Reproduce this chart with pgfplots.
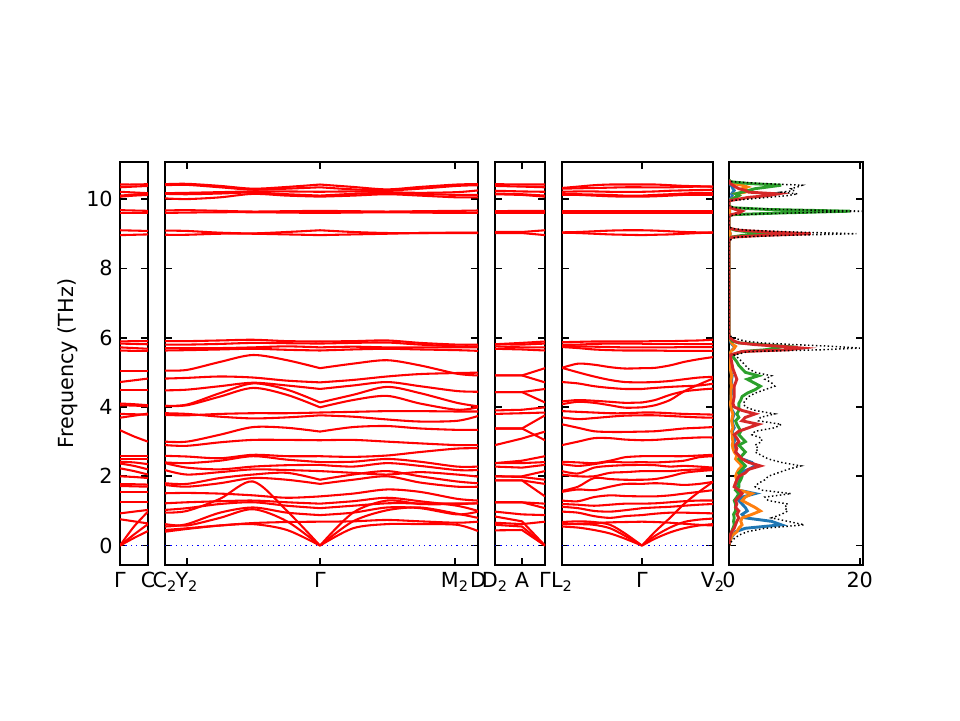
\documentclass[border=0pt]{standalone}
\usepackage{fontspec}
\setmainfont{DejaVu Sans}
\usepackage{pgfplots}
\usepackage{pgfplotstable}
\pgfplotsset{compat=1.18}

% ---------- Panel 1 : Gamma -> C ----------
\pgfplotstableread{
b 120 134 148
b1 0 0.22 0.42
b2 0 0.32 0.62
b3 0 0.55 0.98
b4 0.76 0.70 0.64
b5 0.93 0.98 1.03
b6 1.25 1.25 1.25
b7 1.55 1.55 1.55
b8 1.72 1.71 1.70
b9 1.77 1.77 1.76
b10 2.00 1.98 1.95
b11 2.23 2.15 2.05
b12 2.37 2.30 2.20
b13 2.42 2.40 2.35
b14 2.58 2.58 2.58
b15 2.50 2.50 2.50
b16 3.33 3.15 3.00
b17 3.69 3.75 3.81
b18 3.80 3.79 3.78
b19 4.05 4.04 4.02
b20 4.10 4.08 4.05
b21 4.48 4.48 4.48
b22 4.72 4.77 4.82
b23 5.04 5.04 5.04
b24 5.63 5.62 5.62
b25 5.72 5.70 5.68
b26 5.83 5.82 5.81
b27 5.89 5.90 5.90
b28 8.96 8.97 8.98
b29 9.10 9.09 9.08
b30 9.60 9.60 9.60
b31 9.68 9.67 9.66
b32 10.07 10.10 10.12
b33 10.10 10.13 10.16
b34 10.21 10.19 10.17
b35 10.34 10.36 10.38
b36 10.42 10.42 10.43
}\pOneRaw
\pgfplotstabletranspose[colnames from=b]\pOne{\pOneRaw}

% ---------- Panel 2 left : C2 -> Y2 -> Gamma ----------
\pgfplotstableread{
b 165 187 220 253 287 320
b1 0.45 0.50 0.58 0.62 0.45 0
b2 0.62 0.58 0.80 1.05 0.70 0
b3 0.95 1.00 1.35 1.85 1.00 0
b4 0.40 0.48 0.58 0.65 0.68 0.69
b5 0.55 0.62 0.95 1.10 0.95 0.88
b6 1.03 1.08 1.20 1.25 1.15 1.08
b7 1.22 1.25 1.28 1.30 1.25 1.21
b8 1.51 1.52 1.50 1.45 1.38 1.42
b9 1.75 1.70 1.80 1.95 1.90 1.78
b10 1.80 1.78 1.95 2.05 2.10 1.90
b11 2.18 2.05 2.12 2.20 2.18 2.15
b12 2.38 2.25 2.20 2.28 2.32 2.33
b13 2.40 2.38 2.45 2.58 2.48 2.41
b14 2.59 2.57 2.52 2.62 2.58 2.58
b15 2.90 2.88 2.98 3.05 3.05 3.04
b16 3.00 3.00 3.20 3.42 3.40 3.29
b17 3.82 3.80 3.72 3.67 3.70 3.76
b18 3.77 3.76 3.80 3.82 3.82 3.84
b19 4.03 4.05 4.30 4.55 4.35 3.99
b20 4.03 4.07 4.40 4.68 4.50 4.13
b21 4.48 4.50 4.60 4.70 4.62 4.52
b22 4.82 4.84 4.88 4.85 4.76 4.71
b23 5.05 5.07 5.30 5.50 5.35 5.12
b24 5.63 5.64 5.66 5.68 5.65 5.63
b25 5.70 5.70 5.70 5.72 5.75 5.72
b26 5.80 5.80 5.82 5.85 5.84 5.83
b27 5.90 5.90 5.92 5.94 5.90 5.89
b28 8.97 8.97 9.00 9.00 8.98 8.96
b29 9.09 9.08 9.03 9.01 9.05 9.10
b30 9.60 9.61 9.62 9.62 9.61 9.60
b31 9.67 9.68 9.66 9.64 9.65 9.66
b32 10.02 10.00 10.05 10.15 10.10 10.07
b33 10.15 10.14 10.16 10.19 10.14 10.10
b34 10.17 10.18 10.20 10.22 10.22 10.21
b35 10.40 10.41 10.34 10.27 10.30 10.34
b36 10.43 10.44 10.38 10.30 10.35 10.42
}\pTwoLRaw
\pgfplotstabletranspose[colnames from=b]\pTwoL{\pTwoLRaw}

% ---------- Panel 2 right : Gamma -> M2 -> D ----------
\pgfplotstableread{
b 320 353 387 420 457 478
b1 0 0.50 0.62 0.62 0.60 0.42
b2 0 0.70 1.02 1.10 0.92 0.80
b3 0 0.95 1.30 1.20 1.20 1.22
b4 0.69 0.70 0.74 0.70 0.66 0.69
b5 0.88 0.95 1.10 1.08 0.90 0.98
b6 1.08 1.15 1.22 1.22 1.22 1.22
b7 1.21 1.28 1.38 1.28 1.15 1.00
b8 1.42 1.50 1.62 1.55 1.35 1.30
b9 1.78 1.90 2.00 1.82 1.70 1.70
b10 1.90 2.05 2.15 2.00 1.85 1.80
b11 2.15 2.10 2.05 2.12 2.05 1.99
b12 2.33 2.28 2.38 2.30 2.18 2.18
b13 2.41 2.42 2.50 2.42 2.28 2.28
b14 2.58 2.56 2.60 2.70 2.80 2.81
b15 3.04 3.05 3.00 2.95 2.90 2.90
b16 3.29 3.42 3.45 3.38 3.34 3.34
b17 3.76 3.72 3.64 3.58 3.60 3.74
b18 3.84 3.86 3.88 3.88 3.87 3.87
b19 3.99 4.20 4.32 4.10 3.92 3.99
b20 4.13 4.35 4.58 4.40 4.12 4.02
b21 4.52 4.62 4.72 4.60 4.46 4.44
b22 4.71 4.78 4.88 4.95 4.98 4.99
b23 5.12 5.25 5.35 5.20 4.96 4.91
b24 5.63 5.66 5.68 5.66 5.64 5.62
b25 5.72 5.74 5.72 5.72 5.72 5.72
b26 5.83 5.85 5.86 5.80 5.75 5.75
b27 5.89 5.90 5.92 5.85 5.80 5.80
b28 8.96 8.98 9.00 9.02 9.02 9.02
b29 9.10 9.05 9.02 9.02 9.03 9.03
b30 9.60 9.61 9.62 9.61 9.60 9.60
b31 9.66 9.65 9.64 9.65 9.66 9.67
b32 10.07 10.10 10.14 10.10 10.05 10.05
b33 10.10 10.15 10.18 10.15 10.12 10.12
b34 10.21 10.22 10.20 10.18 10.20 10.25
b35 10.34 10.28 10.25 10.30 10.38 10.40
b36 10.42 10.35 10.28 10.35 10.42 10.43
}\pTwoRRaw
\pgfplotstabletranspose[colnames from=b]\pTwoR{\pTwoRRaw}

% ---------- Panel 3 : D2 -> A -> Gamma ----------
\pgfplotstableread{
b 495 522 545
b1 0.44 0.45 0
b2 0.60 0.55 0
b3 0.84 0.70 0
b4 0.66 0.62 0.69
b5 0.98 0.90 0.88
b6 1.25 1.25 1.08
b7 1.25 1.25 1.21
b8 1.88 1.88 1.42
b9 1.88 1.88 1.78
b10 2.00 1.98 1.90
b11 2.00 2.00 2.15
b12 2.28 2.25 2.33
b13 2.38 2.38 2.41
b14 2.38 2.45 2.58
b15 3.38 3.38 3.04
b16 2.90 3.09 3.29
b17 3.38 3.38 3.76
b18 3.80 3.82 3.84
b19 3.90 3.92 3.99
b20 4.43 4.43 4.13
b21 4.43 4.43 4.52
b22 4.91 4.91 4.71
b23 4.91 4.91 5.12
b24 5.68 5.66 5.63
b25 5.75 5.72 5.72
b26 5.81 5.80 5.83
b27 5.81 5.85 5.89
b28 9.02 9.02 8.96
b29 9.05 9.05 9.10
b30 9.60 9.60 9.60
b31 9.65 9.66 9.66
b32 10.14 10.12 10.07
b33 10.16 10.14 10.10
b34 10.24 10.22 10.21
b35 10.38 10.36 10.34
b36 10.43 10.42 10.42
}\pThreeRaw
\pgfplotstabletranspose[colnames from=b]\pThree{\pThreeRaw}

% ---------- Panel 4 left : L2 -> Gamma ----------
\pgfplotstableread{
b 562 578 594 610 625 642
b1 0.55 0.52 0.45 0.35 0.20 0
b2 0.62 0.62 0.60 0.50 0.28 0
b3 0.68 0.70 0.68 0.60 0.35 0
b4 0.62 0.63 0.65 0.67 0.68 0.69
b5 0.98 0.95 0.85 0.80 0.85 0.88
b6 1.12 1.08 1.00 0.98 1.02 1.08
b7 1.20 1.18 1.15 1.18 1.21 1.21
b8 1.30 1.28 1.40 1.45 1.43 1.42
b9 1.55 1.62 1.60 1.70 1.78 1.78
b10 1.58 1.70 1.95 1.92 1.90 1.90
b11 2.05 2.00 2.00 2.10 2.12 2.15
b12 2.15 2.08 2.25 2.30 2.32 2.33
b13 2.35 2.30 2.35 2.42 2.40 2.41
b14 2.42 2.40 2.38 2.45 2.55 2.58
b15 2.90 3.00 3.10 3.10 3.06 3.04
b16 3.50 3.40 3.30 3.28 3.28 3.29
b17 3.70 3.65 3.68 3.72 3.75 3.76
b18 3.88 3.86 3.84 3.82 3.82 3.84
b19 4.08 4.15 4.12 4.05 3.98 3.99
b20 4.16 4.20 4.18 4.15 4.12 4.13
b21 4.72 4.68 4.60 4.55 4.52 4.52
b22 5.13 5.00 4.88 4.78 4.72 4.71
b23 5.13 5.25 5.22 5.15 5.11 5.12
b24 5.73 5.70 5.66 5.64 5.63 5.63
b25 5.76 5.75 5.74 5.73 5.72 5.72
b26 5.80 5.80 5.82 5.83 5.83 5.83
b27 5.87 5.88 5.89 5.89 5.89 5.89
b28 9.03 9.02 9.00 8.98 8.97 8.96
b29 9.04 9.05 9.07 9.09 9.10 9.10
b30 9.60 9.60 9.60 9.60 9.60 9.60
b31 9.66 9.66 9.66 9.66 9.66 9.66
b32 10.12 10.12 10.10 10.08 10.07 10.07
b33 10.14 10.14 10.13 10.12 10.10 10.10
b34 10.21 10.22 10.22 10.21 10.21 10.21
b35 10.30 10.31 10.32 10.33 10.34 10.34
b36 10.32 10.36 10.40 10.42 10.42 10.42
}\pFourLRaw
\pgfplotstabletranspose[colnames from=b]\pFourL{\pFourLRaw}

% ---------- Panel 4 right : Gamma -> V2 ----------
\pgfplotstableread{
b 642 655 670 684 699 713
b1 0 0.20 0.38 0.50 0.58 0.62
b2 0 0.28 0.52 0.68 0.75 0.78
b3 0 0.40 0.80 1.20 1.55 1.84
b4 0.69 0.68 0.66 0.63 0.60 0.58
b5 0.88 0.92 0.95 0.95 0.94 0.93
b6 1.08 1.10 1.12 1.15 1.18 1.20
b7 1.21 1.22 1.25 1.28 1.30 1.30
b8 1.42 1.42 1.45 1.50 1.55 1.60
b9 1.78 1.80 1.78 1.75 1.78 1.84
b10 1.90 1.92 2.00 2.10 2.15 2.18
b11 2.15 2.15 2.15 2.18 2.20 2.22
b12 2.33 2.32 2.28 2.30 2.28 2.25
b13 2.41 2.40 2.42 2.45 2.55 2.58
b14 2.58 2.58 2.58 2.58 2.60 2.62
b15 3.04 3.05 3.08 3.10 3.12 3.12
b16 3.29 3.30 3.34 3.38 3.40 3.42
b17 3.76 3.76 3.74 3.72 3.70 3.69
b18 3.84 3.84 3.82 3.80 3.79 3.78
b19 3.99 4.05 4.20 4.45 4.65 4.82
b20 4.13 4.20 4.35 4.45 4.50 4.53
b21 4.52 4.55 4.58 4.60 4.62 4.67
b22 4.71 4.72 4.75 4.80 4.85 4.87
b23 5.12 5.13 5.20 5.30 5.38 5.44
b24 5.63 5.63 5.62 5.62 5.62 5.62
b25 5.72 5.72 5.72 5.73 5.73 5.73
b26 5.83 5.83 5.83 5.83 5.83 5.83
b27 5.89 5.90 5.90 5.91 5.92 5.94
b28 8.96 8.97 8.98 9.00 9.02 9.03
b29 9.10 9.09 9.07 9.05 9.04 9.04
b30 9.60 9.60 9.60 9.60 9.60 9.60
b31 9.66 9.66 9.66 9.66 9.66 9.66
b32 10.07 10.08 10.10 10.12 10.12 10.12
b33 10.10 10.12 10.14 10.16 10.18 10.18
b34 10.21 10.22 10.24 10.25 10.26 10.27
b35 10.34 10.34 10.34 10.35 10.36 10.36
b36 10.42 10.42 10.40 10.38 10.37 10.36
}\pFourRRaw
\pgfplotstabletranspose[colnames from=b]\pFourR{\pFourRRaw}

% ---------- DOS ----------
\pgfplotstableread{
f tot b o g r
0.00 0.0 0.0 0.0 0.0 0.0
0.10 0.3 0.1 0.1 0.05 0.05
0.20 0.8 0.3 0.3 0.1 0.1
0.30 1.5 0.6 0.5 0.2 0.2
0.40 2.8 1.0 1.2 0.4 0.4
0.50 5.5 2.5 1.5 0.6 0.8
0.60 11.5 8.0 2.0 0.8 1.0
0.70 9.0 6.5 1.8 0.7 1.2
0.80 6.5 2.5 2.0 0.8 1.5
0.90 8.0 2.0 3.5 0.7 1.2
1.00 9.0 2.8 4.8 1.0 1.5
1.10 8.5 2.5 4.0 1.0 1.0
1.20 9.0 2.0 3.0 1.0 1.2
1.30 6.0 1.5 2.0 0.8 1.0
1.40 5.5 2.0 2.5 1.2 1.5
1.50 9.5 4.0 3.5 1.5 2.0
1.60 5.0 1.5 1.5 1.0 1.5
1.70 4.0 1.0 0.8 1.5 0.8
1.80 4.5 1.2 1.0 1.5 1.0
1.90 5.5 1.5 1.2 1.8 1.2
2.00 6.0 1.8 1.0 2.0 1.5
2.10 7.5 1.5 1.2 1.5 2.5
2.20 9.0 3.0 1.5 2.0 3.0
2.30 11.0 4.0 2.0 2.5 4.8
2.40 8.0 3.5 1.5 2.0 3.0
2.50 6.0 2.0 1.0 1.5 2.0
2.60 5.0 1.5 1.2 2.0 1.5
2.70 4.0 1.0 0.8 2.5 1.0
2.80 4.5 0.8 0.6 2.0 1.2
2.90 4.0 0.6 0.5 1.5 1.0
3.00 5.0 0.8 0.6 2.5 1.5
3.10 5.0 1.0 0.5 2.0 1.2
3.20 3.5 0.6 0.5 1.5 0.8
3.30 4.0 0.5 0.4 1.8 1.5
3.40 7.0 0.8 0.6 1.5 3.0
3.50 8.0 0.6 0.5 1.2 4.5
3.60 4.5 0.5 0.4 1.0 2.0
3.70 4.8 0.6 0.5 1.5 2.5
3.80 7.0 0.8 0.6 1.2 4.0
3.90 4.0 0.5 0.4 1.5 2.0
4.00 2.5 0.3 0.3 1.5 0.8
4.10 2.2 0.3 0.2 1.5 0.6
4.20 2.5 0.3 0.3 1.8 0.7
4.30 3.0 0.3 0.3 2.0 0.8
4.40 4.0 0.4 0.3 2.8 0.8
4.50 5.5 0.4 0.3 4.0 0.8
4.60 7.0 0.5 0.4 4.8 0.8
4.70 6.5 0.4 0.3 3.8 1.0
4.80 5.5 0.4 0.3 2.8 1.2
4.90 6.5 0.5 0.4 4.5 1.0
5.00 4.0 0.3 0.3 2.5 0.8
5.10 3.0 0.3 0.2 2.0 0.6
5.20 2.5 0.2 0.2 1.5 0.5
5.30 2.0 0.2 0.2 1.2 0.4
5.40 1.5 0.1 0.1 0.8 0.3
5.50 0.8 0.1 0.1 0.4 0.2
5.60 3.0 0.3 0.3 2.0 2.0
5.65 14.0 0.5 0.6 5.5 9.0
5.70 20.0 0.8 0.8 7.0 11.2
5.75 16.0 0.8 1.0 8.5 8.0
5.80 10.0 0.5 0.6 5.0 4.0
5.85 5.0 0.3 0.4 1.5 1.5
5.90 2.5 0.2 0.3 0.5 0.8
6.00 0.5 0.05 0.05 0.1 0.1
6.10 0 0 0 0 0
8.80 0 0 0 0 0
8.90 1.0 0.05 0.05 0.3 0.4
8.95 8.0 0.1 0.1 2.0 5.0
9.00 19.5 0.2 0.2 5.0 12.5
9.05 10.0 0.1 0.1 3.0 6.0
9.10 3.0 0.05 0.05 1.0 1.5
9.15 0.5 0 0 0.2 0.2
9.20 0 0 0 0 0
9.50 0 0 0 0 0
9.55 1.0 0.05 0.05 0.5 0.3
9.60 10.0 0.1 0.1 8.0 1.5
9.65 21.0 0.1 0.1 18.5 2.0
9.70 8.0 0.05 0.05 6.0 1.0
9.75 1.0 0 0 0.6 0.2
9.80 0 0 0 0 0
9.95 0 0 0 0 0
10.00 3.0 0.2 0.4 0.5 1.5
10.05 6.0 0.4 1.0 1.0 3.0
10.10 9.0 0.5 1.5 1.5 6.0
10.15 10.5 0.4 1.0 1.0 7.5
10.20 8.0 0.6 2.5 2.0 3.0
10.25 10.0 0.8 2.8 3.0 2.5
10.30 9.5 0.6 2.0 4.0 1.5
10.35 10.5 0.5 2.8 6.0 1.0
10.40 11.2 0.3 2.0 8.0 0.6
10.45 5.0 0.1 0.5 3.0 0.2
10.50 0.5 0 0 0.3 0.1
10.55 0 0 0 0 0
}\dos

\definecolor{mplblue}{HTML}{1F77B4}
\definecolor{mplorange}{HTML}{FF7F0E}
\definecolor{mplgreen}{HTML}{2CA02C}
\definecolor{mplred}{HTML}{D62728}

\pgfplotsset{
  panel/.style={
    scale only axis, height=193.44bp, anchor=south west,
    ymin=-0.56, ymax=11.07, ytick={0,2,4,6,8,10},
    axis line style={line width=0.8pt, black},
    tick style={black, line width=0.8pt},
    major tick length=3.5bp,
    tick align=inside,
    /pgf/number format/assume math mode=true,
    tick label style={font=\fontsize{10}{12}\selectfont},
    label style={font=\fontsize{10}{12}\selectfont},
  },
  band/.style={red, line width=1.0pt},
  zeroline/.style={blue, dotted, line width=0.6pt},
}

\begin{document}
\begin{tikzpicture}
\useasboundingbox (0,0) rectangle (460.8bp,345.6bp);

% Panel 1
\begin{axis}[panel, at={(57.6bp,74.4bp)}, width=13.44bp,
  xmin=120, xmax=148, xtick={120,148}, xticklabels={Γ,C},
  ylabel={Frequency (THz)}, ylabel style={yshift=-2.8bp}]
  \addplot[zeroline] coordinates {(120,0) (148,0)};
  \pgfplotsinvokeforeach{1,...,36}{\addplot[band, smooth] table[x=colnames, y=b#1]{\pOne};}
\end{axis}

% Panel 2
\begin{axis}[panel, at={(79.2bp,74.4bp)}, width=150.24bp,
  xmin=165, xmax=478, xtick={165,187,320,455,478},
  xticklabels={C\textsubscript{2},Y\textsubscript{2},Γ,M\textsubscript{2},D},
  yticklabels={}]
  \addplot[zeroline] coordinates {(165,0) (478,0)};
  \pgfplotsinvokeforeach{1,...,36}{\addplot[band, smooth] table[x=colnames, y=b#1]{\pTwoL};}
  \pgfplotsinvokeforeach{1,...,36}{\addplot[band, smooth] table[x=colnames, y=b#1]{\pTwoR};}
\end{axis}

% Panel 3
\begin{axis}[panel, at={(237.6bp,74.4bp)}, width=24bp,
  xmin=495, xmax=545, xtick={495,522,545},
  xticklabels={D\textsubscript{2},A,Γ},
  yticklabels={}]
  \addplot[zeroline] coordinates {(495,0) (545,0)};
  \pgfplotsinvokeforeach{1,...,36}{\addplot[band] table[x=colnames, y=b#1]{\pThree};}
\end{axis}

% Panel 4
\begin{axis}[panel, at={(269.76bp,74.4bp)}, width=72.48bp,
  xmin=562, xmax=713, xtick={562,642,713},
  xticklabels={L\textsubscript{2},Γ,V\textsubscript{2}},
  yticklabels={}]
  \addplot[zeroline] coordinates {(562,0) (713,0)};
  \pgfplotsinvokeforeach{1,...,36}{\addplot[band, smooth] table[x=colnames, y=b#1]{\pFourL};}
  \pgfplotsinvokeforeach{1,...,36}{\addplot[band, smooth] table[x=colnames, y=b#1]{\pFourR};}
\end{axis}

% DOS
\begin{axis}[panel, at={(349.92bp,74.4bp)}, width=64.32bp,
  xmin=0, xmax=20.5, xtick={0,20}, yticklabels={}]
  \addplot[mplblue, line width=1.4pt] table[x=b, y=f]{\dos};
  \addplot[mplorange, line width=1.4pt] table[x=o, y=f]{\dos};
  \addplot[mplgreen, line width=1.4pt] table[x=g, y=f]{\dos};
  \addplot[mplred, line width=1.4pt] table[x=r, y=f]{\dos};
  \addplot[black, line width=0.7pt, dash pattern=on 0.7pt off 1.2pt] table[x=tot, y=f]{\dos};
\end{axis}
\end{tikzpicture}
\end{document}
